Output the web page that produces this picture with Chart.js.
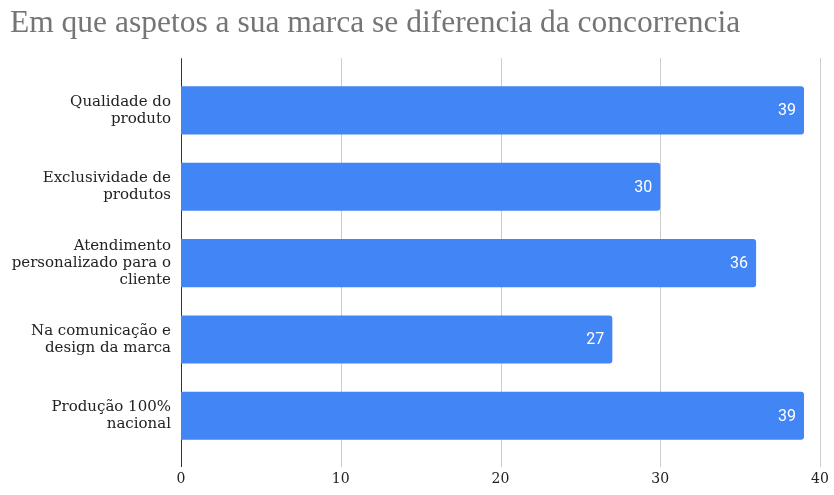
<!DOCTYPE html>
<html>
<head>
<meta charset="utf-8">
<script src="https://cdn.jsdelivr.net/npm/chart.js@4"></script>
<style>
  html, body { margin: 0; padding: 0; background: #fff; }
  #wrap { width: 834px; height: 495px; }
</style>
</head>
<body>
<div id="wrap"><canvas id="bar_chart" width="834" height="495"></canvas></div>
<script>
const categories = [
  ['Qualidade do', 'produto'],
  ['Exclusividade de', 'produtos'],
  ['Atendimento', 'personalizado para o', 'cliente'],
  ['Na comunicação e', 'design da marca'],
  ['Produção 100%', 'nacional']
];
const responses = [39, 30, 36, 27, 39];
const xTicks = [0, 10, 20, 30, 40];

// vertical grid lines run a bit past the bar band, top and bottom
const gridPlugin = {
  id: 'grid_lines',
  beforeDatasetsDraw(chart) {
    const {ctx, chartArea, scales} = chart;
    const top = chartArea.top - 14, bottom = chartArea.bottom + 13;
    ctx.save();
    xTicks.forEach(v => {
      const x = Math.round(scales.x.getPixelForValue(v)) + 0.5;
      ctx.strokeStyle = v === 0 ? '#333' : '#cccccc';
      ctx.lineWidth = 1;
      ctx.beginPath();
      ctx.moveTo(x, top);
      ctx.lineTo(x, bottom);
      ctx.stroke();
    });
    ctx.restore();
  }
};

// value written inside the end of each bar
const valueLabels = {
  id: 'value_labels',
  afterDatasetsDraw(chart) {
    const {ctx} = chart;
    const meta = chart.getDatasetMeta(0);
    ctx.save();
    ctx.fillStyle = '#ffffff';
    ctx.font = '16px Roboto';
    ctx.textAlign = 'right';
    ctx.textBaseline = 'middle';
    meta.data.forEach((bar, i) => {
      ctx.fillText(String(responses[i]), bar.x - 8, bar.y + 1);
    });
    ctx.restore();
  }
};

const ctx = document.getElementById('bar_chart').getContext('2d');
const bar_chart = new Chart(ctx, {
  type: 'bar',
  data: {
    labels: categories,
    datasets: [{
      data: responses,
      backgroundColor: '#4285f4',
      borderRadius: 3,
      borderSkipped: 'start',
      categoryPercentage: 1,
      barPercentage: 0.63
    }]
  },
  options: {
    indexAxis: 'y',
    responsive: false,
    animation: false,
    layout: { autoPadding: false, padding: { left: 10, right: 14, top: 0, bottom: 7 } },
    plugins: {
      legend: { display: false },
      tooltip: { enabled: false },
      title: {
        display: true,
        text: 'Em que aspetos a sua marca se diferencia da concorrencia',
        align: 'start',
        color: '#757575',
        font: { family: 'Liberation Serif', size: 31.5, weight: 'normal', lineHeight: 1.15 },
        padding: { top: 6, bottom: 30 }
      }
    },
    scales: {
      x: {
        min: 0,
        max: 40,
        afterFit(scale) {
          scale.height = 34;
          scale.paddingLeft = 0;
          scale.paddingRight = 0;
        },
        border: { display: false },
        grid: { display: false, drawTicks: false },
        ticks: {
          stepSize: 10,
          padding: 17,
          color: '#222',
          font: { family: 'DejaVu Serif', size: 14 }
        }
      },
      y: {
        afterFit(scale) {
          scale.width = 171;
          scale.paddingTop = 0;
          scale.paddingBottom = 0;
        },
        border: { display: false },
        grid: { display: false, drawTicks: false },
        ticks: {
          padding: 10,
          color: '#222',
          font: { family: 'DejaVu Serif', size: 15, lineHeight: 1.15 }
        }
      }
    }
  },
  plugins: [gridPlugin, valueLabels]
});
</script>
</body>
</html>
